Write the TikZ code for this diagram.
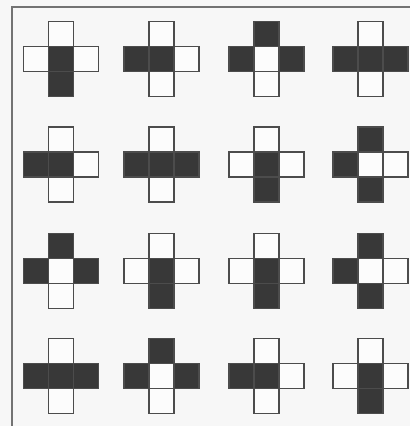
\documentclass[tikz,border=0pt]{standalone}
\usetikzlibrary{calc}

\definecolor{ink}{gray}{0.22}
\definecolor{tone0}{gray}{0.99}
\colorlet{tone1}{ink}

\begin{document}
\begin{tikzpicture}[x=0.02cm, y=-0.02cm, cell/.style={draw=black!70, line width=1.1pt},
    frame/.style={draw=black!55, line width=0.8pt}]

    % page and frame
    \fill[black!3] (0,0) rectangle (410,426);
    \useasboundingbox (0,0) rectangle (410,426);
    \draw[frame] (12,426) -- (12,7) -- (410,7);

    % crosses: centre x / centre y / top / left / centre / right / bottom
    \foreach \cx/\cy/\T/\L/\C/\R/\B in {
        61/59/0/0/1/0/1,    161.5/59/0/1/1/0/0,    266.5/59/1/1/0/1/0,    370.5/59/0/1/1/1/0,
        61/164.5/0/1/1/0/0, 161.5/164.5/0/1/1/1/0, 266.5/164.5/0/0/1/0/1, 370.5/164.5/1/1/0/0/1,
        61/271/1/1/0/1/0,   161.5/271/0/0/1/0/1,   266.5/271/0/0/1/0/1,   370.5/271/1/1/0/0/1,
        61/376/0/1/1/1/0,   161.5/376/1/1/0/1/0,   266.5/376/0/1/1/0/0,   370.5/376/0/0/1/0/1}
    {
        \foreach \dx/\dy/\f in {0/-1/\T, -1/0/\L, 0/0/\C, 1/0/\R, 0/1/\B}
            \filldraw[cell, fill=tone\f] ({\cx+25*\dx-12.5}, {\cy+25*\dy-12.5}) rectangle ++(25,25);
    }

\end{tikzpicture}
\end{document}
